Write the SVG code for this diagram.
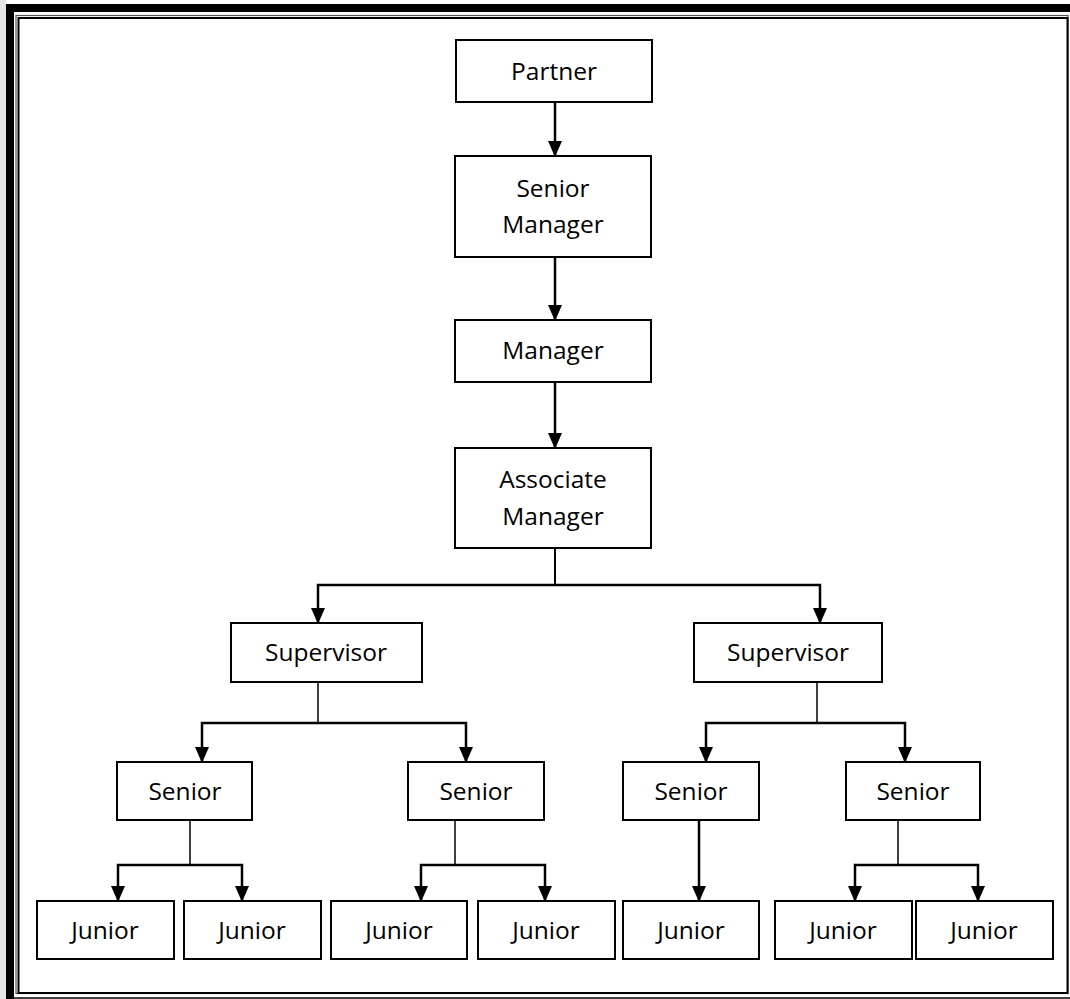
<svg xmlns="http://www.w3.org/2000/svg" width="1070" height="999" viewBox="0 0 1070 999">
<style>
.box{fill:#fff;stroke:#000;stroke-width:2}
.lbl{font-family:"Open Sans","Noto Sans",sans-serif;font-size:24.5px;fill:#000;text-anchor:middle}
.arr{fill:none;stroke:#000;stroke-width:2.5;marker-end:url(#ah)}
.ln{fill:none;stroke:#000;stroke-width:2}
.thin{fill:none;stroke:#000;stroke-width:1.5}
</style>
<defs>
<marker id="ah" markerUnits="userSpaceOnUse" markerWidth="16" markerHeight="14" viewBox="0 0 16 14" refX="15" refY="7" orient="auto">
<path d="M0,0 L16,7 L0,14 Z" fill="#000"/>
</marker>
</defs>
<rect x="0" y="0" width="1070" height="999" fill="#fff"/>
<rect x="0" y="0" width="6" height="999" fill="#e4e4e4"/>
<g id="frame">
<rect x="6" y="4" width="1064" height="8" fill="#000"/>
<rect x="6" y="4" width="8" height="995" fill="#000"/>
<line x1="6" y1="998" x2="1070" y2="998" stroke="#000" stroke-width="1.5"/>
<rect x="16" y="15.5" width="1052" height="978" fill="none" stroke="#555" stroke-width="1.2"/>
<rect x="18.5" y="18" width="1049" height="975" fill="none" stroke="#000" stroke-width="2"/>
</g>
<g id="connectors">
<path class="arr" d="M555 102 V156"/>
<path class="arr" d="M555 257 V320"/>
<path class="arr" d="M555 382 V448"/>
<path class="ln" d="M555 548 V585"/>
<path class="arr" d="M555 585 H318 V623"/>
<path class="arr" d="M555 585 H820 V623"/>
<path class="thin" d="M318 682 V723"/>
<path class="arr" d="M318 723 H202 V762"/>
<path class="arr" d="M318 723 H466 V762"/>
<path class="thin" d="M817 682 V723"/>
<path class="arr" d="M817 723 H706 V762"/>
<path class="arr" d="M817 723 H905 V762"/>
<path class="thin" d="M190 820 V865"/>
<path class="arr" d="M190 865 H118 V901"/>
<path class="arr" d="M190 865 H242 V901"/>
<path class="thin" d="M455 820 V865"/>
<path class="arr" d="M455 865 H421 V901"/>
<path class="arr" d="M455 865 H545 V901"/>
<path class="arr" d="M699 820 V901"/>
<path class="thin" d="M898 820 V865"/>
<path class="arr" d="M898 865 H855 V901"/>
<path class="arr" d="M898 865 H978 V901"/>
</g>
<g id="partner"><rect class="box" x="456" y="40" width="196" height="62"/><text class="lbl" x="554" y="80">Partner</text></g>
<g id="senior-manager"><rect class="box" x="455" y="156" width="196" height="101"/><text class="lbl" x="553" y="197">Senior</text><text class="lbl" x="553" y="233">Manager</text></g>
<g id="manager"><rect class="box" x="455" y="320" width="196" height="62"/><text class="lbl" x="553" y="359">Manager</text></g>
<g id="associate-manager"><rect class="box" x="455" y="448" width="196" height="100"/><text class="lbl" x="553" y="488">Associate</text><text class="lbl" x="553" y="525">Manager</text></g>
<g id="supervisor-1"><rect class="box" x="231" y="623" width="191" height="59"/><text class="lbl" x="326" y="661">Supervisor</text></g>
<g id="supervisor-2"><rect class="box" x="694" y="623" width="188" height="59"/><text class="lbl" x="788" y="661">Supervisor</text></g>
<g id="senior-1"><rect class="box" x="117" y="762" width="135" height="58"/><text class="lbl" x="185" y="800">Senior</text></g>
<g id="senior-2"><rect class="box" x="408" y="762" width="136" height="58"/><text class="lbl" x="476" y="800">Senior</text></g>
<g id="senior-3"><rect class="box" x="623" y="762" width="136" height="58"/><text class="lbl" x="691" y="800">Senior</text></g>
<g id="senior-4"><rect class="box" x="846" y="762" width="134" height="58"/><text class="lbl" x="913" y="800">Senior</text></g>
<g id="junior-1"><rect class="box" x="37" y="901" width="137" height="58"/><text class="lbl" x="105" y="939">Junior</text></g>
<g id="junior-2"><rect class="box" x="184" y="901" width="137" height="58"/><text class="lbl" x="252" y="939">Junior</text></g>
<g id="junior-3"><rect class="box" x="331" y="901" width="136" height="58"/><text class="lbl" x="399" y="939">Junior</text></g>
<g id="junior-4"><rect class="box" x="478" y="901" width="137" height="58"/><text class="lbl" x="546" y="939">Junior</text></g>
<g id="junior-5"><rect class="box" x="623" y="901" width="136" height="58"/><text class="lbl" x="691" y="939">Junior</text></g>
<g id="junior-6"><rect class="box" x="775" y="901" width="137" height="58"/><text class="lbl" x="843" y="939">Junior</text></g>
<g id="junior-7"><rect class="box" x="916" y="901" width="137" height="58"/><text class="lbl" x="984" y="939">Junior</text></g>
</svg>
